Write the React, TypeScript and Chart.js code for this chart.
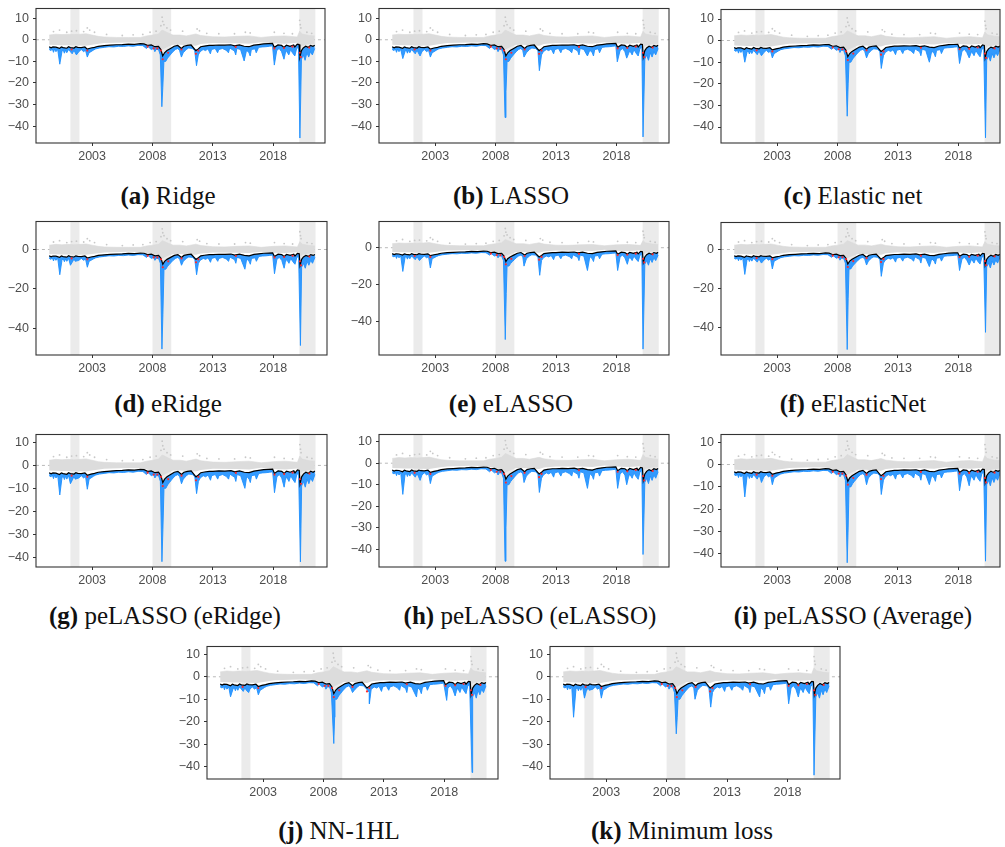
import React, { useEffect, useRef } from "react";
import { Chart, registerables } from "chart.js";

Chart.register(...registerables);
Chart.defaults.font.family = '"Liberation Sans", Arial, Helvetica, sans-serif';

// ---------------- data ----------------
const xTickYears = [2003, 2008, 2013, 2018];
const xAxisStart = 1998.35;

const recessionStarts = [2001.2, 2008.0, 2020.17];
const recessionEnds = [2001.95, 2009.55, 2021.5];

// black line (VaR forecast) [year, value]
const blackLine: number[][] = [
  [1999.44, -3.2], [1999.6, -3.7], [1999.75, -3.3], [2000.0, -3.4], [2000.3, -4.0], [2000.45, -3.3],
  [2000.6, -3.6], [2000.9, -3.9], [2001.05, -3.2], [2001.2, -3.6], [2001.5, -3.8], [2001.65, -3.2],
  [2001.8, -3.5], [2002.1, -3.6], [2002.4, -3.3], [2002.6, -4.3], [2002.9, -3.8], [2003.2, -3.5],
  [2003.5, -3.0], [2004.0, -2.7], [2004.5, -2.5], [2005.0, -2.3], [2005.5, -2.2], [2006.0, -2.0],
  [2006.5, -2.1], [2007.0, -1.8], [2007.3, -1.9], [2007.6, -2.6], [2007.9, -2.4], [2008.2, -3.2],
  [2008.5, -3.0], [2008.7, -4.5], [2008.85, -7.5], [2009.0, -6.0], [2009.2, -5.0], [2009.5, -4.0],
  [2009.8, -3.0], [2010.1, -2.6], [2010.4, -4.0], [2010.6, -3.0], [2010.9, -2.6], [2011.2, -2.4],
  [2011.6, -5.0], [2011.8, -4.2], [2012.0, -3.2], [2012.3, -2.9], [2012.7, -2.6], [2013.0, -2.6],
  [2013.5, -2.4], [2014.0, -2.5], [2014.5, -2.3], [2014.8, -2.8], [2015.2, -2.4], [2015.6, -3.0],
  [2016.0, -3.2], [2016.4, -2.5], [2016.8, -2.2], [2017.2, -1.9], [2017.6, -1.8], [2017.95, -1.7],
  [2018.1, -3.5], [2018.4, -2.4], [2018.7, -2.6], [2018.9, -3.5], [2019.1, -2.5], [2019.4, -3.0],
  [2019.7, -2.4], [2019.8, -3.3], [2020.0, -2.0], [2020.15, -2.2], [2020.22, -8.0], [2020.35, -5.0],
  [2020.5, -3.8], [2020.7, -3.0], [2020.9, -3.5], [2021.1, -2.6], [2021.3, -3.0], [2021.45, -2.5],
];

// blue lower band, common to all panels [year, value]
const blueBase: number[][] = [
  [1999.44, -4.5], [1999.6, -5.0], [1999.7, -4.2], [1999.8, -5.8], [1999.9, -4.2], [2000.0, -5.5],
  [2000.15, -4.5], [2000.5, -5.5], [2000.6, -4.6], [2000.7, -6.2], [2000.8, -4.8], [2000.9, -6.0],
  [2001.05, -4.5], [2001.35, -6.5], [2001.5, -4.8], [2001.6, -6.0], [2001.9, -5.5], [2002.1, -4.5],
  [2002.3, -5.5], [2002.45, -4.8], [2002.75, -6.0], [2002.9, -5.5], [2003.1, -4.8], [2003.3, -4.2],
  [2003.6, -3.8], [2004.0, -3.5], [2004.4, -3.2], [2004.8, -3.3], [2005.2, -3.0], [2005.6, -3.1],
  [2006.0, -2.8], [2006.4, -3.0], [2006.8, -2.6], [2007.2, -2.7], [2007.5, -4.0], [2007.65, -3.2],
  [2007.9, -4.5], [2008.1, -4.0], [2008.2, -5.5], [2008.3, -4.5], [2008.5, -4.5], [2008.65, -7.0],
  [2008.95, -10.0], [2009.1, -10.0], [2009.25, -8.5], [2009.4, -7.5], [2009.55, -6.5], [2009.7, -5.5],
  [2009.9, -4.5], [2010.1, -4.0], [2010.25, -5.0], [2010.55, -6.0], [2010.8, -4.5], [2011.0, -3.8],
  [2011.3, -4.0], [2011.5, -5.0], [2011.8, -7.0], [2011.95, -5.5], [2012.2, -4.5], [2012.4, -5.0],
  [2012.6, -4.2], [2012.8, -6.5], [2012.9, -4.5], [2013.2, -4.0], [2013.4, -6.0], [2013.5, -4.5],
  [2013.8, -4.0], [2014.1, -4.8], [2014.3, -6.0], [2014.4, -3.8], [2014.8, -5.2], [2014.9, -7.0],
  [2015.0, -4.0], [2015.3, -4.5], [2015.8, -4.8], [2016.0, -6.0], [2016.1, -7.5], [2016.2, -4.5],
  [2016.5, -4.2], [2016.6, -6.0], [2016.8, -3.5], [2017.1, -3.3], [2017.4, -3.2], [2017.7, -3.0],
  [2017.95, -2.8], [2018.3, -5.0], [2018.5, -4.0], [2018.7, -5.5], [2019.0, -6.5], [2019.1, -5.0],
  [2019.3, -7.0], [2019.45, -4.5], [2019.6, -6.0], [2019.8, -7.5], [2019.95, -4.0], [2020.1, -3.5],
  [2020.35, -9.0], [2020.5, -7.0], [2020.65, -9.5], [2020.8, -6.0], [2020.95, -8.0], [2021.1, -5.5],
  [2021.25, -7.0], [2021.45, -4.0],
];

// deepest blue spikes of each panel [year, value]
const spikesRidge = [[2000.32, -11.3], [2001.7, -7], [2002.6, -8], [2008.78, -31], [2008.86, -22], [2010.4, -8], [2011.65, -12], [2015.6, -9.8], [2018.1, -11.7], [2018.9, -9], [2020.22, -45.5]];
const spikesLasso = [[2000.32, -8.7], [2001.75, -7.5], [2002.6, -8], [2008.78, -36], [2008.86, -24], [2010.35, -8], [2011.62, -14.3], [2015.6, -7.5], [2018.07, -10.2], [2018.85, -8.5], [2020.2, -45]];
const spikesElastic = [[2000.32, -10], [2001.7, -7], [2002.6, -8], [2008.8, -35], [2008.88, -20], [2010.4, -8], [2011.62, -12.9], [2015.6, -10], [2018.1, -10.6], [2018.9, -8], [2020.25, -45]];
const spikesERidge = [[2000.32, -12.8], [2001.2, -8], [2002.6, -9], [2008.78, -50.5], [2008.86, -33], [2010.4, -8], [2011.65, -12.8], [2015.65, -10], [2018.1, -12.3], [2018.9, -9.5], [2020.25, -48.7]];
const spikesELasso = [[2000.32, -12.9], [2001.7, -7], [2002.6, -11], [2008.8, -50], [2008.88, -25], [2010.35, -10], [2011.65, -15], [2015.6, -12.4], [2018.1, -12.4], [2018.9, -9], [2020.2, -55.2]];
const spikesEElastic = [[2000.32, -12.8], [2001.7, -7], [2002.6, -10], [2008.8, -51.3], [2008.88, -25], [2010.4, -8], [2011.62, -13.8], [2015.6, -8.8], [2018.1, -10.8], [2018.9, -8], [2020.25, -42.5]];
const spikesPeERidge = [[2000.32, -12.9], [2001.2, -8], [2002.6, -10.4], [2008.78, -41.9], [2008.86, -28], [2010.4, -8], [2011.65, -12.3], [2015.65, -10], [2018.1, -11.9], [2018.9, -9.5], [2020.25, -42]];
const spikesPeELasso = [[2000.32, -14.5], [2001.75, -8], [2002.6, -9.5], [2008.78, -45.5], [2008.86, -30], [2010.35, -9], [2011.62, -13.6], [2015.6, -11.7], [2018.1, -11.7], [2018.85, -10], [2020.2, -42.4]];
const spikesPeAverage = [[2000.32, -14.5], [2001.7, -8], [2002.6, -9], [2008.8, -44], [2008.88, -28], [2010.4, -9], [2011.62, -13.4], [2015.6, -9], [2018.1, -11.7], [2018.9, -9.5], [2020.25, -43.3]];
const spikesNN = [[2000.3, -8.9], [2001.8, -7], [2002.6, -8], [2008.85, -29.7], [2008.92, -18], [2010.4, -7], [2011.8, -12], [2015.7, -9], [2018.2, -10.5], [2018.9, -8.5], [2020.3, -42.6]];
const spikesMinLoss = [[2000.3, -18], [2001.2, -9.5], [2002.6, -9.5], [2008.8, -25.4], [2008.88, -18], [2010.35, -10], [2011.65, -13.5], [2015.7, -9], [2018.1, -12], [2018.9, -9], [2020.2, -43.8]];

// gray cloud of realised returns: dense envelope + sparse outliers
const grayUpper: number[][] = [
  [1999.44, 2.2], [2000.0, 2.6], [2000.5, 2.4], [2001.0, 2.6], [2001.5, 2.4], [2002.0, 2.6], [2002.5, 2.8],
  [2003.0, 2.2], [2003.5, 1.6], [2004.0, 1.3], [2005.0, 1.1], [2006.0, 1.1], [2007.0, 1.1], [2007.5, 1.8],
  [2008.0, 2.2], [2008.5, 2.7], [2008.8, 4.5], [2009.0, 4.0], [2009.3, 3.2], [2009.7, 2.2], [2010.3, 2.2],
  [2010.8, 1.8], [2011.6, 2.7], [2012.0, 2.0], [2013.0, 1.4], [2014.0, 1.3], [2015.0, 1.6], [2016.0, 1.8],
  [2017.0, 1.1], [2018.0, 1.6], [2019.0, 1.8], [2020.0, 1.3], [2020.2, 4.0], [2020.4, 2.7], [2021.0, 2.0],
  [2021.45, 1.8],
];
const grayLower: number[][] = [
  [1999.44, -2.3], [2000.5, -2.5], [2001.5, -2.5], [2002.5, -2.7], [2003.0, -2.3], [2004.0, -1.5],
  [2006.0, -1.2], [2007.0, -1.3], [2007.5, -1.8], [2008.0, -2.3], [2008.5, -2.8], [2008.8, -4.5],
  [2009.0, -4.0], [2009.3, -3.2], [2009.7, -2.3], [2010.3, -2.3], [2011.6, -2.7], [2012.0, -2.0],
  [2013.0, -1.5], [2015.0, -1.6], [2016.0, -1.8], [2017.0, -1.1], [2018.0, -1.6], [2019.0, -1.8],
  [2020.0, -1.4], [2020.2, -4.0], [2020.4, -2.7], [2021.0, -2.0], [2021.45, -1.8],
];
const grayOutliers: number[][] = [
  [1999.8, 3.8], [2000.3, 4.5], [2000.9, 3.5], [2001.3, 4.0], [2001.7, 4.2], [2002.3, 3.8], [2002.6, 5.5],
  [2002.8, 4.5], [2003.2, 3.5], [2004.2, 2.5], [2005.5, 2.0], [2006.4, 2.3], [2007.2, 2.5], [2007.8, 3.5],
  [2008.3, 4.0], [2008.7, 6.5], [2008.8, 10.5], [2008.85, 8.5], [2008.95, 7.0], [2009.2, 5.5], [2009.5, 4.5],
  [2010.5, 4.0], [2011.7, 5.0], [2011.9, 4.2], [2012.5, 3.0], [2013.5, 2.8], [2014.8, 2.8], [2015.7, 3.5],
  [2016.1, 3.2], [2018.1, 3.5], [2018.9, 3.0], [2019.6, 2.8], [2020.2, 9.0], [2020.25, 7.0], [2020.3, 5.5],
  [2020.8, 3.5], [2021.2, 3.0],
];
// returns below the VaR line (red)
const redHits: number[][] = [
  [2001.3, -4.5], [2002.6, -5.0], [2007.6, -3.2], [2008.1, -4.0], [2008.4, -4.0], [2008.7, -5.0],
  [2008.85, -9.0], [2009.3, -6.0], [2010.4, -4.5], [2011.6, -6.5], [2011.8, -5.0], [2014.9, -3.3],
  [2018.1, -4.0], [2018.9, -3.8], [2019.6, -3.2], [2020.2, -6.0], [2020.3, -8.0], [2021.0, -3.6],
];

// panels
const panelTags = ["(a)", "(b)", "(c)", "(d)", "(e)", "(f)", "(g)", "(h)", "(i)", "(j)", "(k)"];
const panelNames = [
  "Ridge", "LASSO", "Elastic net", "eRidge", "eLASSO", "eElasticNet",
  "peLASSO (eRidge)", "peLASSO (eLASSO)", "peLASSO (Average)", "NN-1HL", "Minimum loss",
];
const panelSpikes = [
  spikesRidge, spikesLasso, spikesElastic, spikesERidge, spikesELasso, spikesEElastic,
  spikesPeERidge, spikesPeELasso, spikesPeAverage, spikesNN, spikesMinLoss,
];
const panelYMin = [-47.8, -47.8, -47.4, -53.5, -58.4, -54.1, -44.2, -48.2, -45.9, -45.5, -45.5];
const panelYMax = [14.5, 14.5, 14.4, 14.2, 14.3, 13.8, 13.4, 13.3, 13.5, 13.5, 13.5];
const panelYStep = [10, 10, 10, 20, 20, 20, 10, 10, 10, 10, 10];
const panelXMax = [2022.3, 2022.35, 2021.45, 2022.45, 2022.35, 2021.45, 2022.45, 2022.35, 2021.45, 2022.45, 2022.35];

// ---------------- layout ----------------
const plotBoxes = [
  { l: 36, r: 325, t: 5, b: 143 }, { l: 379, r: 669, t: 5, b: 143 }, { l: 721, r: 1000, t: 6, b: 143 },
  { l: 36, r: 327, t: 218, b: 355 }, { l: 379, r: 669, t: 218, b: 355 }, { l: 721, r: 1000, t: 219, b: 355 },
  { l: 36, r: 327, t: 431, b: 567 }, { l: 379, r: 669, t: 431, b: 567 }, { l: 721, r: 1000, t: 431, b: 567 },
  { l: 207, r: 498, t: 643, b: 779 }, { l: 550, r: 840, t: 643, b: 779 },
];
const captionPos = [
  { cx: 168, base: 204 }, { cx: 511, base: 204 }, { cx: 853, base: 204 },
  { cx: 168, base: 412 }, { cx: 511, base: 412 }, { cx: 853, base: 412 },
  { cx: 165, base: 624 }, { cx: 530, base: 624 }, { cx: 853, base: 624 },
  { cx: 339, base: 839 }, { cx: 682, base: 839 },
];
const Y_AXIS_W = 36;
const TOP_PAD = 8;
const RIGHT_PAD = 6;
const X_AXIS_H = 26;
const CAPTION_SIZE = 25;

const toXY = (arr: number[][]) => arr.map(([x, y]) => ({ x, y }));
const mergeBlue = (spikes: number[][]) =>
  toXY([...blueBase, ...spikes].sort((p, q) => p[0] - q[0]));

const decorPlugin = {
  id: "decor",
  beforeDatasetsDraw(chart: any) {
    const { ctx, chartArea, scales } = chart;
    const { left, right, top, bottom } = chartArea;
    ctx.save();
    ctx.beginPath();
    ctx.rect(left, top, right - left, bottom - top);
    ctx.clip();
    ctx.fillStyle = "#ebebeb";
    recessionStarts.forEach((s, i) => {
      const x0 = scales.x.getPixelForValue(s);
      const x1 = scales.x.getPixelForValue(recessionEnds[i]);
      ctx.fillRect(x0, top, x1 - x0, bottom - top);
    });
    ctx.restore();
  },
  afterDraw(chart: any) {
    const { ctx, chartArea } = chart;
    const { left, right, top, bottom } = chartArea;
    ctx.save();
    ctx.strokeStyle = "#333333";
    ctx.lineWidth = 1.1;
    ctx.strokeRect(left, top, right - left, bottom - top);
    ctx.restore();
  },
};

function Panel({ idx }: { idx: number }) {
  const ref = useRef<HTMLCanvasElement>(null);
  const box = plotBoxes[idx];
  const w = Y_AXIS_W + (box.r - box.l) + RIGHT_PAD;
  const h = TOP_PAD + (box.b - box.t) + X_AXIS_H;

  useEffect(() => {
    if (!ref.current) return;
    const xMin = xAxisStart;
    const xMax = panelXMax[idx];
    const chart = new Chart(ref.current, {
      type: "line",
      data: {
        datasets: [
          {
            // 0: dashed zero line
            data: [{ x: xMin - 1, y: 0 }, { x: xMax + 1, y: 0 }],
            borderColor: "#a8a8a8",
            borderWidth: 0.8,
            borderDash: [3, 3],
            pointRadius: 0,
            fill: false,
            order: 10,
          },
          {
            // 1: gray lower envelope
            data: toXY(grayLower),
            borderWidth: 0,
            borderColor: "rgba(0,0,0,0)",
            pointRadius: 0,
            fill: false,
            order: 9,
          },
          {
            // 2: gray upper envelope filled to lower
            data: toXY(grayUpper),
            borderColor: "#dadada",
            borderWidth: 0.6,
            backgroundColor: "#dcdcdc",
            pointRadius: 0,
            fill: "-1",
            order: 9,
          },
          {
            // 3: gray scattered returns
            data: toXY(grayOutliers),
            showLine: false,
            pointRadius: 0.9,
            pointBorderWidth: 0,
            pointBackgroundColor: "#c8c8c8",
            order: 8,
          },
          {
            // 4: black VaR line
            data: toXY(blackLine),
            borderColor: "#000000",
            borderWidth: 1.2,
            pointRadius: 0,
            fill: false,
            order: 5,
          },
          {
            // 5: blue band filled up to the black line
            data: mergeBlue(panelSpikes[idx]),
            borderColor: "#1E90FF",
            borderWidth: 0.9,
            backgroundColor: "rgba(30,144,255,0.9)",
            pointRadius: 0,
            fill: 4,
            order: 6,
          },
          {
            // 6: red hits
            data: toXY(redHits),
            showLine: false,
            pointRadius: 1.1,
            pointBorderWidth: 0,
            pointBackgroundColor: "#ff2a2a",
            order: 1,
          },
        ],
      },
      options: {
        animation: false,
        responsive: false,
        devicePixelRatio: 1,
        layout: { padding: { top: TOP_PAD, right: RIGHT_PAD, left: 0, bottom: 0 } },
        plugins: { legend: { display: false }, tooltip: { enabled: false } },
        elements: { line: { tension: 0 } },
        scales: {
          x: {
            type: "linear",
            min: xMin,
            max: xMax,
            afterBuildTicks: (s: any) => {
              s.ticks = xTickYears.map((v) => ({ value: v }));
            },
            afterFit: (s: any) => {
              s.height = X_AXIS_H;
            },
            grid: { display: true, drawOnChartArea: false, drawTicks: true, tickLength: 3, color: "#333333", lineWidth: 1 },
            border: { display: false },
            ticks: {
              autoSkip: false,
              maxRotation: 0,
              padding: 3,
              color: "#4d4d4d",
              font: { size: 12.5 },
              callback: (v: any) => String(v),
            },
          },
          y: {
            type: "linear",
            min: panelYMin[idx],
            max: panelYMax[idx],
            afterFit: (s: any) => {
              s.width = Y_AXIS_W;
            },
            grid: { display: true, drawOnChartArea: false, drawTicks: true, tickLength: 3, color: "#333333", lineWidth: 1 },
            border: { display: false },
            ticks: {
              stepSize: panelYStep[idx],
              includeBounds: false,
              padding: 4,
              color: "#4d4d4d",
              font: { size: 12.5 },
              callback: (v: any) => (Number(v) < 0 ? "\u2212" + Math.abs(Number(v)) : String(v)),
            },
          },
        },
      },
      plugins: [decorPlugin],
    } as any);
    return () => chart.destroy();
  }, [idx]);

  return (
    <canvas
      ref={ref}
      width={w}
      height={h}
      style={{ position: "absolute", left: box.l - Y_AXIS_W, top: box.t - TOP_PAD, width: w, height: h }}
    />
  );
}

function Caption({ idx }: { idx: number }) {
  const p = captionPos[idx];
  const top = p.base - Math.round(CAPTION_SIZE * 0.836);
  return (
    <div
      style={{
        position: "absolute",
        left: p.cx - 200,
        top,
        width: 400,
        textAlign: "center",
        whiteSpace: "nowrap",
        fontFamily: '"Liberation Serif", "Times New Roman", serif',
        fontSize: CAPTION_SIZE,
        lineHeight: `${CAPTION_SIZE}px`,
        color: "#111",
      }}
    >
      <b>{panelTags[idx]}</b> {panelNames[idx]}
    </div>
  );
}

export default function App() {
  return (
    <div style={{ position: "absolute", left: 0, top: 0, width: 1005, height: 847, background: "#fff", overflow: "hidden" }}>
      {panelNames.map((_, i) => (
        <Panel key={"p" + i} idx={i} />
      ))}
      {panelNames.map((_, i) => (
        <Caption key={"c" + i} idx={i} />
      ))}
    </div>
  );
}
